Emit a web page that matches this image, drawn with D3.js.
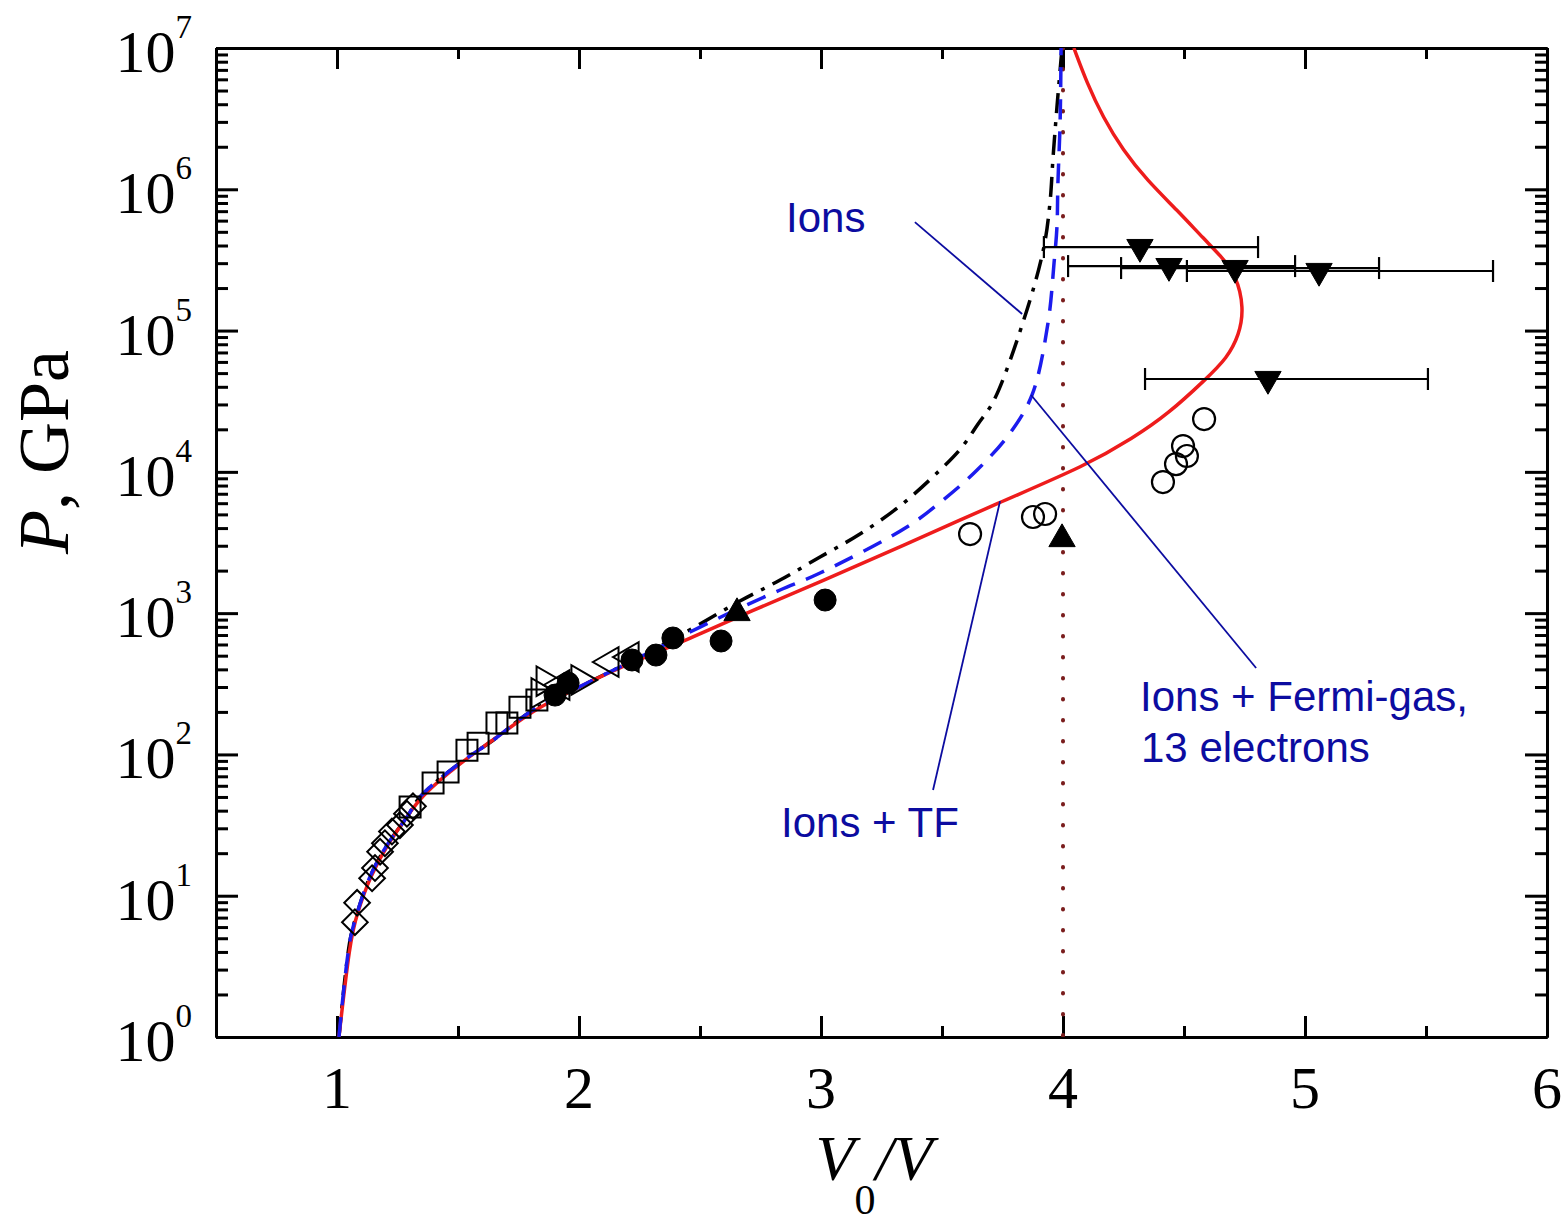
<!DOCTYPE html>
<html>
<head>
<meta charset="utf-8">
<script src="https://cdn.jsdelivr.net/npm/d3@7"></script>
<style>
  body { margin: 0; background: #fff; }
  svg { display: block; }
</style>
</head>
<body>
<svg></svg>
<script>
// curves: [V0/V, P in GPa]
var ionsLine = [
  [1.008, 1], [1.054, 4.86], [1.083, 7.5], [1.136, 13.6], [1.207, 22.9], [1.289, 36], [1.343, 50],
  [1.508, 87], [1.645, 126], [1.810, 206], [1.975, 286], [2.169, 416], [2.335, 585], [2.5, 837],
  [2.665, 1218], [2.831, 1715], [2.996, 2496], [3.161, 3630], [3.326, 5730], [3.492, 10300],
  [3.579, 14730], [3.649, 21800], [3.715, 32200], [3.851, 140000], [3.921, 390000], [3.946, 798000],
  [3.959, 1.69e6], [3.975, 3.82e6], [3.996, 1e7]
];
var fermiLine = [
  [1.008, 1], [1.054, 4.86], [1.083, 7.5], [1.136, 13.6], [1.207, 22.9], [1.289, 36], [1.343, 50],
  [1.508, 87], [1.645, 126], [1.810, 206], [1.975, 286], [2.169, 416], [2.335, 575], [2.5, 797],
  [2.665, 1087], [2.831, 1458], [2.996, 1923], [3.355, 4070], [3.504, 6310], [3.645, 10300],
  [3.781, 18800], [3.872, 35000], [3.938, 113000], [3.963, 301000], [3.975, 540000],
  [3.979, 1.11e6], [3.988, 2.94e6], [3.992, 1e7]
];
var tfLine = [
  [1.008, 1], [1.054, 4.86], [1.083, 7.5], [1.136, 13.6], [1.207, 22.9], [1.289, 36], [1.343, 50],
  [1.508, 87], [1.645, 126], [1.810, 206], [1.975, 286], [2.169, 416], [2.446, 645], [2.719, 1052],
  [2.996, 1660], [3.326, 2937], [3.740, 6110], [4.099, 11170], [4.289, 17340], [4.434, 25650],
  [4.591, 45400], [4.678, 63900], [4.728, 92900], [4.748, 144000], [4.716, 247000], [4.649, 342000],
  [4.587, 437000], [4.471, 713000], [4.347, 1.16e6], [4.248, 1.89e6], [4.165, 3.24e6],
  [4.099, 5.65e6], [4.045, 1e7]
];
var limitX = 4;

// experimental points
var openDiamonds = [
  [1.074, 6.5], [1.083, 8.9], [1.145, 13.3], [1.157, 15.7], [1.178, 20.5], [1.198, 23.5],
  [1.227, 28.5], [1.260, 31.6], [1.289, 38], [1.314, 43]
];
var openSquares = [
  [1.302, 42.4], [1.397, 62.8], [1.459, 75], [1.537, 107], [1.583, 120], [1.661, 167],
  [1.702, 167], [1.756, 216], [1.826, 243]
];
var openTriRight = [[1.839, 272], [1.860, 330], [2.004, 336]];
var openTriLeft = [[2.128, 451], [2.211, 489], [1.925, 310]];
var filledDots = [[1.901, 263], [1.955, 320], [2.219, 466], [2.318, 505], [2.388, 667], [2.587, 635], [3.017, 1238]];
var filledTriUp = [[2.653, 1002], [3.996, 3345]];
var openCircles = [
  [3.616, 3630], [3.876, 4790], [3.926, 5030], [4.413, 8470], [4.467, 11350],
  [4.512, 12950], [4.496, 15230], [4.583, 23640]
];
// down triangles with horizontal error bars: x, P, xLow, xHigh
var triDownX = [4.318, 4.438, 4.711, 5.058, 4.847];
var triDownP = [390000, 286000, 277000, 264000, 45400];
var triDownLo = [3.921, 4.021, 4.240, 4.512, 4.339];
var triDownHi = [4.806, 4.959, 5.306, 5.777, 5.508];

var xMajor = [1, 2, 3, 4, 5, 6];
var yMajorExp = [0, 1, 2, 3, 4, 5, 6, 7];

// annotation leader lines [[x1,P1],[x2,P2]]
var leaders = [
  [[3.388, 586000], [3.831, 131000]],
  [[3.868, 35000], [4.798, 409]],
  [[3.740, 6210], [3.463, 56]]
];

var width = 1564, height = 1222;
var svg = d3.select('svg').attr('width', width).attr('height', height);

var x = d3.scaleLinear().domain([0.5, 6]).range([216, 1547]);
var y = d3.scaleLog().domain([1, 1e7]).range([1037, 48]);

var serif = '"Liberation Serif", "Times New Roman", serif';
var sans = '"Liberation Sans", Arial, sans-serif';
var annoColor = '#0c0ca0';

svg.append('defs').append('clipPath').attr('id', 'plotclip')
  .append('rect').attr('x', 216).attr('y', 48).attr('width', 1331).attr('height', 989);

// minor ticks
var xMinor = d3.range(0.5, 6.01, 0.5).filter(function(v) { return Math.abs(v - Math.round(v)) > 0.01; });
var yMinor = [];
for (var e = 0; e < 7; e++) {
  for (var m = 2; m <= 9; m++) yMinor.push(m * Math.pow(10, e));
}
var yMajor = yMajorExp.map(function(d) { return Math.pow(10, d); });

function styleAxis(g) {
  g.selectAll('path').attr('stroke', '#000').attr('stroke-width', 3);
  g.selectAll('line').attr('stroke', '#000').attr('stroke-width', 3);
  g.selectAll('text').remove();
}

var axes = svg.append('g');
axes.append('g').attr('transform', 'translate(0,1037)')
  .call(d3.axisBottom(x).tickValues(xMajor).tickSize(-21).tickSizeOuter(0).tickFormat('')).call(styleAxis);
axes.append('g').attr('transform', 'translate(0,1037)')
  .call(d3.axisBottom(x).tickValues(xMinor).tickSize(-11).tickSizeOuter(0).tickFormat('')).call(styleAxis);
axes.append('g').attr('transform', 'translate(0,48)')
  .call(d3.axisTop(x).tickValues(xMajor).tickSize(-21).tickSizeOuter(0).tickFormat('')).call(styleAxis);
axes.append('g').attr('transform', 'translate(0,48)')
  .call(d3.axisTop(x).tickValues(xMinor).tickSize(-11).tickSizeOuter(0).tickFormat('')).call(styleAxis);
axes.append('g').attr('transform', 'translate(216,0)')
  .call(d3.axisLeft(y).tickValues(yMajor).tickSize(-22).tickSizeOuter(0).tickFormat('')).call(styleAxis);
axes.append('g').attr('transform', 'translate(216,0)')
  .call(d3.axisLeft(y).tickValues(yMinor).tickSize(-12).tickSizeOuter(0).tickFormat('')).call(styleAxis);
axes.append('g').attr('transform', 'translate(1547,0)')
  .call(d3.axisRight(y).tickValues(yMajor).tickSize(-22).tickSizeOuter(0).tickFormat('')).call(styleAxis);
axes.append('g').attr('transform', 'translate(1547,0)')
  .call(d3.axisRight(y).tickValues(yMinor).tickSize(-12).tickSizeOuter(0).tickFormat('')).call(styleAxis);

// tick labels
svg.append('g').selectAll('text').data(xMajor).enter().append('text')
  .attr('x', function(d) { return x(d); })
  .attr('y', 1108)
  .attr('text-anchor', 'middle')
  .style('font-family', serif).style('font-size', '60px')
  .text(function(d) { return d; });

var yl = svg.append('g').selectAll('text').data(yMajorExp).enter().append('text')
  .attr('x', 192)
  .attr('y', function(d) { return y(Math.pow(10, d)) + 24; })
  .attr('text-anchor', 'end')
  .style('font-family', serif).style('font-size', '60px');
yl.append('tspan').text('10');
yl.append('tspan').attr('dy', -34).style('font-size', '33px').text(function(d) { return d; });

// axis titles
var xt = svg.append('text').attr('x', 874).attr('y', 1180).attr('text-anchor', 'middle')
  .style('font-family', serif).style('font-size', '64px');
xt.append('tspan').style('font-style', 'italic').text('V');
xt.append('tspan').attr('dy', 34).style('font-size', '42px').text('0');
xt.append('tspan').attr('dy', -34).style('font-style', 'italic').text('/V');

var yt = svg.append('text').attr('transform', 'translate(68,452) rotate(-90)').attr('text-anchor', 'middle')
  .style('font-family', serif).style('font-size', '72px');
yt.append('tspan').style('font-style', 'italic').text('P');
yt.append('tspan').text(', GPa');

var plot = svg.append('g').attr('clip-path', 'url(#plotclip)');

// vertical limit line
plot.append('line')
  .attr('x1', x(limitX)).attr('x2', x(limitX))
  .attr('y1', y(1e7)).attr('y2', y(1))
  .attr('stroke', '#7a1d1d').attr('stroke-width', 4)
  .attr('stroke-linecap', 'round').attr('stroke-dasharray', '0.5,20.5');

var line = d3.line()
  .x(function(d) { return x(d[0]); })
  .y(function(d) { return y(d[1]); })
  .curve(d3.curveCatmullRom.alpha(0.5));
var smoothLine = d3.line()
  .x(function(d) { return x(d[0]); })
  .y(function(d) { return y(d[1]); })
  .curve(d3.curveBasis);

plot.append('path').datum(ionsLine).attr('d', line)
  .attr('fill', 'none').attr('stroke', '#000').attr('stroke-width', 3.5)
  .attr('stroke-dasharray', '20,9,4,9');
plot.append('path').datum(tfLine).attr('d', smoothLine)
  .attr('fill', 'none').attr('stroke', '#ee1c1c').attr('stroke-width', 3.5);
plot.append('path').datum(fermiLine).attr('d', line)
  .attr('fill', 'none').attr('stroke', '#1c1cee').attr('stroke-width', 3.5)
  .attr('stroke-dasharray', '20,12');

// markers
function drawSymbols(data, type, size, rot, filled, sw) {
  plot.append('g').selectAll('path').data(data).enter().append('path')
    .attr('d', d3.symbol().type(type).size(size))
    .attr('transform', function(d) { return 'translate(' + x(d[0]) + ',' + y(d[1]) + ') rotate(' + rot + ')'; })
    .attr('fill', filled ? '#000' : 'none')
    .attr('stroke', '#000').attr('stroke-width', sw);
}
drawSymbols(openDiamonds, d3.symbolSquare, 330, 45, false, 2);
drawSymbols(openSquares, d3.symbolSquare, 440, 0, false, 2);
drawSymbols(openTriRight, d3.symbolTriangle, 380, 90, false, 2);
drawSymbols(openTriLeft, d3.symbolTriangle, 380, -90, false, 2);
drawSymbols(filledDots, d3.symbolCircle, 380, 0, true, 1);
drawSymbols(filledTriUp, d3.symbolTriangle, 300, 0, true, 1);
drawSymbols(openCircles, d3.symbolCircle, 380, 0, false, 2.2);

// error bars
var eb = plot.append('g');
triDownX.forEach(function(v, i) {
  var yy = y(triDownP[i]);
  eb.append('line').attr('x1', x(triDownLo[i])).attr('x2', x(triDownHi[i]))
    .attr('y1', yy).attr('y2', yy).attr('stroke', '#000').attr('stroke-width', 2.2);
  [triDownLo[i], triDownHi[i]].forEach(function(c) {
    eb.append('line').attr('x1', x(c)).attr('x2', x(c))
      .attr('y1', yy - 11).attr('y2', yy + 11).attr('stroke', '#000').attr('stroke-width', 2.2);
  });
});
drawSymbols(triDownX.map(function(v, i) { return [v, triDownP[i]]; }), d3.symbolTriangle, 300, 180, true, 1);

// annotations
svg.append('g').selectAll('line').data(leaders).enter().append('line')
  .attr('x1', function(d) { return x(d[0][0]); })
  .attr('y1', function(d) { return y(d[0][1]); })
  .attr('x2', function(d) { return x(d[1][0]); })
  .attr('y2', function(d) { return y(d[1][1]); })
  .attr('stroke', annoColor).attr('stroke-width', 1.8);

var notes = [
  { t: 'Ions', px: 786, py: 232 },
  { t: 'Ions + Fermi-gas,', px: 1140, py: 711 },
  { t: '13 electrons', px: 1141, py: 762 },
  { t: 'Ions + TF', px: 781, py: 837 }
];
svg.append('g').selectAll('text').data(notes).enter().append('text')
  .attr('x', function(d) { return d.px; })
  .attr('y', function(d) { return d.py; })
  .style('font-family', sans).style('font-size', '42px')
  .attr('fill', annoColor)
  .text(function(d) { return d.t; });
</script>
</body>
</html>
